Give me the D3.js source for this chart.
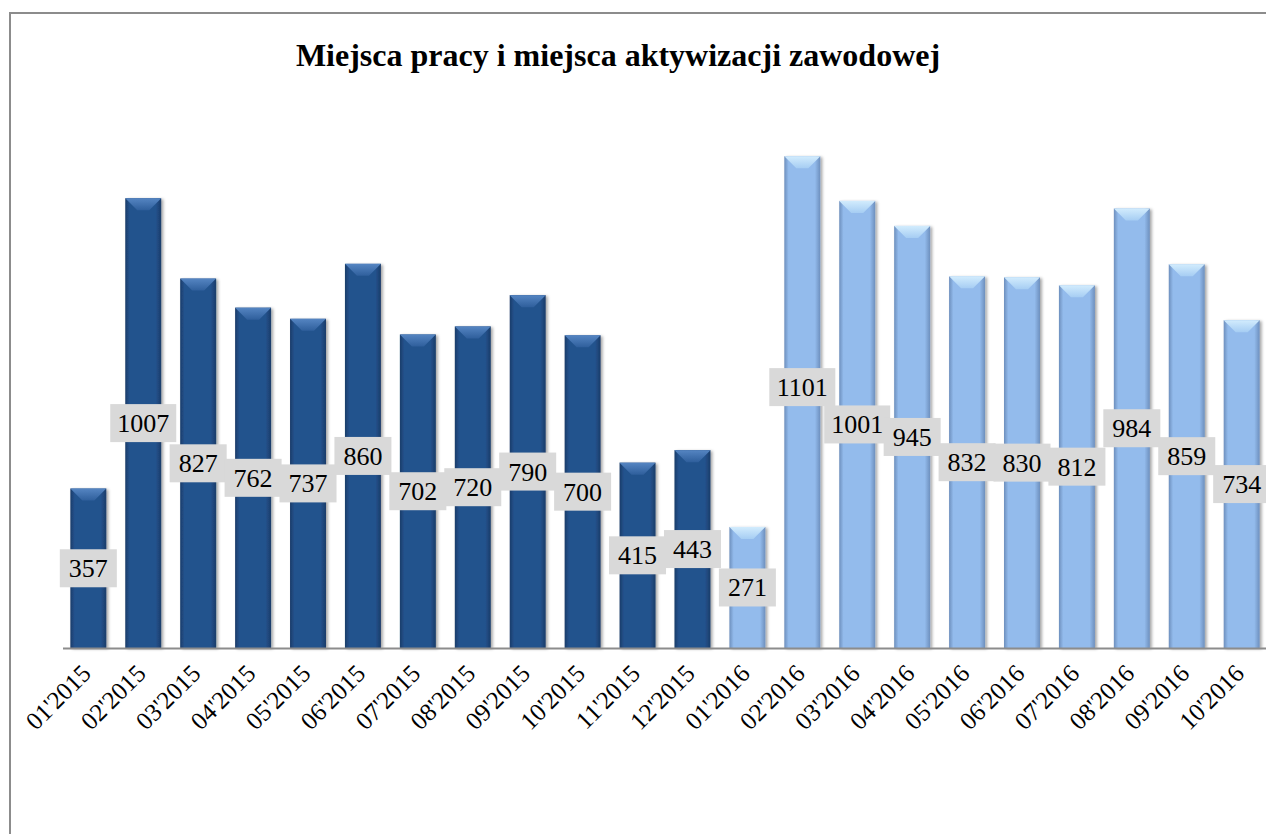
<!DOCTYPE html>
<html>
  <head>
    <meta charset="utf-8">
    <title>Miejsca pracy</title>
    <script src="https://d3js.org/d3.v7.min.js"></script>
    <style>
      body { margin: 0; background: #fff; }
      svg text { font-family: "Liberation Serif", "Times New Roman", Times, serif; }
    </style>
  </head>
  <body>
    <script>
    var w = 1266, h = 834;
    var months = ["01'2015","02'2015","03'2015","04'2015","05'2015","06'2015","07'2015","08'2015","09'2015","10'2015","11'2015","12'2015",
                  "01'2016","02'2016","03'2016","04'2016","05'2016","06'2016","07'2016","08'2016","09'2016","10'2016"];
    var values = [357,1007,827,762,737,860,702,720,790,700,415,443,
                  271,1101,1001,945,832,830,812,984,859,734];
    var years = months.map(function(m){ return m.slice(-4); });
    // label nudged up in the original
    var labelShift = { "02'2016": -15 };

    var svg = d3.select("body").append("svg").attr("width", w).attr("height", h);
    var defs = svg.append("defs");

    function grad(id, edge, mid) {
      var g = defs.append("linearGradient").attr("id", id).attr("x1", 0).attr("x2", 1).attr("y1", 0).attr("y2", 0);
      g.append("stop").attr("offset", "0%").attr("stop-color", edge);
      g.append("stop").attr("offset", "12%").attr("stop-color", mid);
      g.append("stop").attr("offset", "85%").attr("stop-color", mid);
      g.append("stop").attr("offset", "100%").attr("stop-color", edge);
    }
    grad("g2015", "#1b3c69", "#24528d");
    grad("g2016", "#6d8fbd", "#93bbec");
    function bev(id, top, bot) {
      var g = defs.append("linearGradient").attr("id", id).attr("x1", 0).attr("x2", 0).attr("y1", 0).attr("y2", 1);
      g.append("stop").attr("offset", "0%").attr("stop-color", top);
      g.append("stop").attr("offset", "100%").attr("stop-color", bot);
    }
    bev("b2015", "#5585c2", "#2f5f9c");
    bev("b2016", "#d2ecfd", "#a6cdf3");
    var f = defs.append("filter").attr("id", "sh").attr("x", "-20%").attr("y", "-5%").attr("width", "140%").attr("height", "110%");
    f.append("feDropShadow").attr("dx", 2).attr("dy", 1).attr("stdDeviation", 1.5).attr("flood-color", "#000").attr("flood-opacity", 0.35);

    var fill = { "2015": "url(#g2015)", "2016": "url(#g2016)" };
    var bevel = { "2015": "url(#b2015)", "2016": "url(#b2016)" };

    // frame
    svg.append("rect").attr("x", 10).attr("y", 13).attr("width", 1300).attr("height", 900)
       .attr("fill", "none").attr("stroke", "#8c8c8c").attr("stroke-width", 2);

    svg.append("text").attr("x", 618).attr("y", 66).attr("text-anchor", "middle")
       .attr("font-weight", "bold")
       .attr("font-size", "32px").text("Miejsca pracy i miejsca aktywizacji zawodowej");

    var x = d3.scaleBand().domain(months).range([61, 1269]).paddingInner(0.345).paddingOuter(0.17);
    var y = d3.scaleLinear().domain([0, 1200]).range([648, 112]);

    var g = svg.selectAll("g.bar").data(months).enter().append("g").attr("class", "bar");
    g.append("rect")
     .attr("x", function(d){ return x(d); })
     .attr("y", function(d, i){ return y(values[i]); })
     .attr("width", x.bandwidth())
     .attr("height", function(d, i){ return y(0) - y(values[i]); })
     .attr("fill", function(d, i){ return fill[years[i]]; })
     .attr("filter", "url(#sh)");
    g.append("polygon")
     .attr("points", function(d, i){
        var x0 = x(d), x1 = x0 + x.bandwidth(), t = y(values[i]), b = 12;
        return [[x0, t], [x1, t], [x1 - b, t + b], [x0 + b, t + b]].join(" ");
     })
     .attr("fill", function(d, i){ return bevel[years[i]]; });

    // baseline
    svg.append("line").attr("x1", 63).attr("x2", 1266).attr("y1", 648.5).attr("y2", 648.5)
       .attr("stroke", "#8c8c8c").attr("stroke-width", 2);

    // value labels
    var lab = svg.selectAll("g.lab").data(months).enter().append("g").attr("class", "lab")
      .attr("transform", function(d, i){
        var cy = (y(values[i]) + y(0)) / 2 + (labelShift[d] || 0);
        return "translate(" + (x(d) + x.bandwidth() / 2) + "," + cy + ")";
      });
    lab.append("rect")
      .attr("x", function(d, i){ return String(values[i]).length > 3 ? -33 : -28.5; })
      .attr("width", function(d, i){ return String(values[i]).length > 3 ? 66 : 57; })
      .attr("y", -19).attr("height", 38).attr("fill", "#d9d9d9");
    lab.append("text").attr("text-anchor", "middle").attr("y", 9)
      .attr("font-size", "26px")
      .attr("fill", "#000").text(function(d, i){ return values[i]; });

    // x labels
    svg.selectAll("text.xl").data(months).enter().append("text").attr("class", "xl")
      .attr("transform", function(d){
        return "translate(" + (x(d) + x.bandwidth() / 2 + 4) + ",675) rotate(-45)";
      })
      .attr("text-anchor", "end")
      .attr("font-size", "25px")
      .text(function(d){ return d; });
    </script>
  </body>
</html>
